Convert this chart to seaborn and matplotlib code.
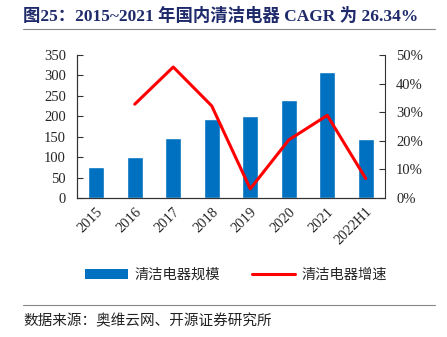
import numpy as np
import pandas as pd
import matplotlib
matplotlib.use("Agg")
import matplotlib.pyplot as plt
import seaborn as sns
from matplotlib.ticker import FuncFormatter, MultipleLocator
from matplotlib.lines import Line2D
from matplotlib.patches import Patch

years = ["2015", "2016", "2017", "2018", "2019", "2020", "2021", "2022H1"]
scale = [75, 100, 146, 193, 200, 239, 309, 145]
growth = [np.nan, 32.8, 45.8, 32.2, 3.2, 20.3, 28.9, 6.8]
title = "图25：2015~2021 年国内清洁电器 CAGR 为 26.34%"
bar_label = "清洁电器规模"
line_label = "清洁电器增速"
source = "数据来源：奥维云网、开源证券研究所"

sns.set_theme(style="white")
plt.rcParams["font.family"] = ["Liberation Serif", "Noto Sans CJK SC", "DejaVu Sans"]

df = pd.DataFrame({"year": years, "scale": scale, "growth": growth, "pos": np.arange(len(years))})

fig = plt.figure(figsize=(4.47, 3.37), dpi=100)
W, H = 447, 337
ax = fig.add_axes([77 / W, 1 - 198 / H, (385 - 77) / W, (198 - 55) / H])

sns.barplot(data=df, x="pos", y="scale", color="#0070C0", width=0.42, saturation=1,
            ax=ax, order=list(range(len(years))))
ax.set_xlim(-0.5, len(years) - 0.5)
ax.set_ylim(0, 350)
ax.yaxis.set_major_locator(MultipleLocator(50))
ax.set_xticks(np.arange(len(years)))
ax.set_xticklabels(years, rotation=45, ha="right", rotation_mode="anchor", fontsize=10.5)
ax.set_xlabel("")
ax.set_ylabel("")
ax.tick_params(axis="x", length=0, pad=5)
ax.tick_params(axis="y", direction="in", length=4, width=0.8, color="#333333", labelsize=10.5, pad=8)
# category boundary ticks
ax.set_xticks(np.arange(len(years) + 1) - 0.5, minor=True)
ax.tick_params(axis="x", which="minor", direction="in", length=4, width=0.8, color="#555555")

ax2 = ax.twinx()
sns.lineplot(data=df, x="pos", y="growth", color="#FF0000", linewidth=2.2, ax=ax2)
ax2.set_ylim(0, 50)
ax2.yaxis.set_major_locator(MultipleLocator(10))
ax2.yaxis.set_major_formatter(FuncFormatter(lambda v, p: f"{v:.0f}%"))
ax2.set_ylabel("")
ax2.set_xlabel("")
ax2.tick_params(axis="y", direction="in", length=4, width=0.8, color="#333333", labelsize=10.5, pad=8)
ax2.set_xlim(-0.5, len(years) - 0.5)

for a in (ax, ax2):
    a.spines["top"].set_visible(False)
    for s in ("left", "right", "bottom"):
        a.spines[s].set_color("#333333")
        a.spines[s].set_linewidth(0.8)
    a.grid(False)
ax.spines["right"].set_visible(False)

handles = [Patch(facecolor="#0070C0", edgecolor="none"),
           Line2D([0], [0], color="#FF0000", linewidth=2.2)]
fig.legend(handles, [bar_label, line_label], loc="center", bbox_to_anchor=(0.528, 1 - 275 / H),
           ncol=2, frameon=False, handlelength=3.0, handleheight=0.7,
           columnspacing=2.2, handletextpad=0.5, prop={"family": ["Noto Sans CJK SC"], "size": 10.3})

fig.text(23 / W, 1 - 16 / H, title, fontsize=12.5, fontweight="bold", color="#1F2A6B",
         va="center", ha="left")
fig.add_artist(Line2D([23 / W, 435 / W], [1 - 29 / H, 1 - 29 / H], color="#888888", linewidth=0.8))
fig.add_artist(Line2D([23 / W, 435 / W], [1 - 305 / H, 1 - 305 / H], color="#888888", linewidth=0.8))
fig.text(23 / W, 1 - 321 / H, source, fontsize=10.5, color="#222222", va="center", ha="left",
         family=["Noto Sans CJK SC"])

fig.savefig("out.png", dpi=100)
